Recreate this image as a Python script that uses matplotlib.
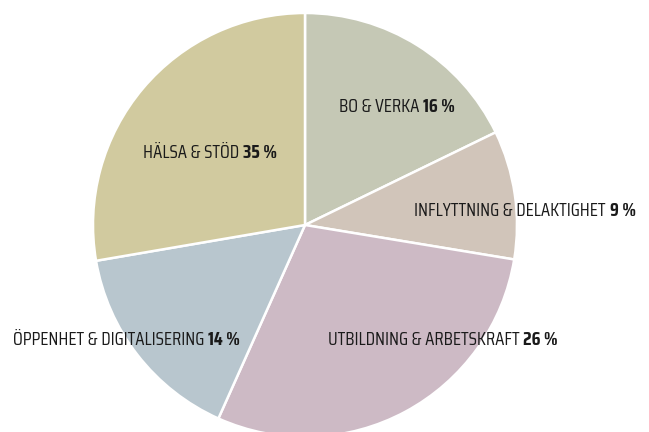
import matplotlib
matplotlib.use("Agg")
import matplotlib.pyplot as plt
from matplotlib import font_manager as fm
from matplotlib.textpath import TextPath

# wedge shares as measured in the picture, printed percentages as labelled
names = ["BO & VERKA", "INFLYTTNING & DELAKTIGHET", "UTBILDNING & ARBETSKRAFT",
         "ÖPPENHET & DIGITALISERING", "HÄLSA & STÖD"]
shares = [17.8, 9.8, 29.1, 15.6, 27.7]
pct_labels = ["16 %", "9 %", "26 %", "14 %", "35 %"]
colors = ["#c5c8b5", "#d1c5ba", "#cdbac5", "#b8c6ce", "#d1ca9f"]

# centre of each label and its width in the reference, pixels from top-left
label_pos = [(397, 107), (525, 211), (443, 340), (126, 340), (210, 153)]
label_w = [119, 218, 227, 228, 133]
CAP_PX = 13

W, H = 649, 432
fig = plt.figure(figsize=(W / 100, H / 100), dpi=100)
ax = fig.add_axes([0, 0, 1, 1])

ax.pie(shares, colors=colors, startangle=90, counterclock=False,
       center=(305, H - 225), radius=212,
       wedgeprops=dict(edgecolor="white", linewidth=1.8))

ax.set_xlim(0, W)
ax.set_ylim(0, H)
ax.set_aspect("equal")
ax.axis("off")

renderer = fig.canvas.get_renderer()


def label_width(name, pct, reg, bold, size):
    a = ax.text(0, 0, name + " ", fontproperties=reg, fontsize=size)
    b = ax.text(0, 0, pct, fontproperties=bold, fontsize=size)
    w = a.get_window_extent(renderer).width + b.get_window_extent(renderer).width
    a.remove()
    b.remove()
    return w


# look for a condensed face with a bold partner, sized to the reference
fams = {}
for f in fm.fontManager.ttflist:
    n = f.name.lower()
    st = str(f.stretch).lower()
    if ("condensed" in n or "narrow" in n or "condensed" in st) and f.style == "normal":
        fams.setdefault(f.name, []).append(f)

choices = [(fm.FontProperties(family="Liberation Sans"),
            fm.FontProperties(family="Liberation Sans", weight="bold"), 0)]
for fname, faces in fams.items():
    w = lambda f: f.weight if isinstance(f.weight, int) else (700 if "bold" in str(f.weight) else 400)
    reg = min(faces, key=lambda f: abs(w(f) - 400))
    bolds = [f for f in faces if w(f) >= 600]
    bold = min(bolds, key=lambda f: abs(w(f) - 700)) if bolds else reg
    choices.append((fm.FontProperties(fname=reg.fname),
                    fm.FontProperties(fname=bold.fname), 0 if bolds else 20))

best = None
for reg, bold, pen in choices:
    ratios = [lw / label_width(n, p, reg, bold, 13)
              for n, p, lw in zip(names, pct_labels, label_w)]
    size = 13 * sum(ratios) / len(ratios)
    cap = TextPath((0, 0), "H", prop=reg, size=100).get_extents().height / 100
    cap_px = cap * size * 100 / 72
    score = abs(cap_px - CAP_PX) + pen
    if best is None or score < best[0]:
        best = (score, reg, bold, size)

_, reg, bold, size = best

for name, pct, (cx, cy) in zip(names, pct_labels, label_pos):
    w = label_width(name, pct, reg, bold, size)
    t = ax.text(cx - w / 2, H - cy, name + " ", fontproperties=reg, fontsize=size,
                color="#1a1a1a", ha="left", va="center")
    ax.annotate(pct, xy=(1, 0.5), xycoords=t, fontproperties=bold, fontsize=size,
                color="#1a1a1a", ha="left", va="center")

fig.savefig("out.png", dpi=100)
